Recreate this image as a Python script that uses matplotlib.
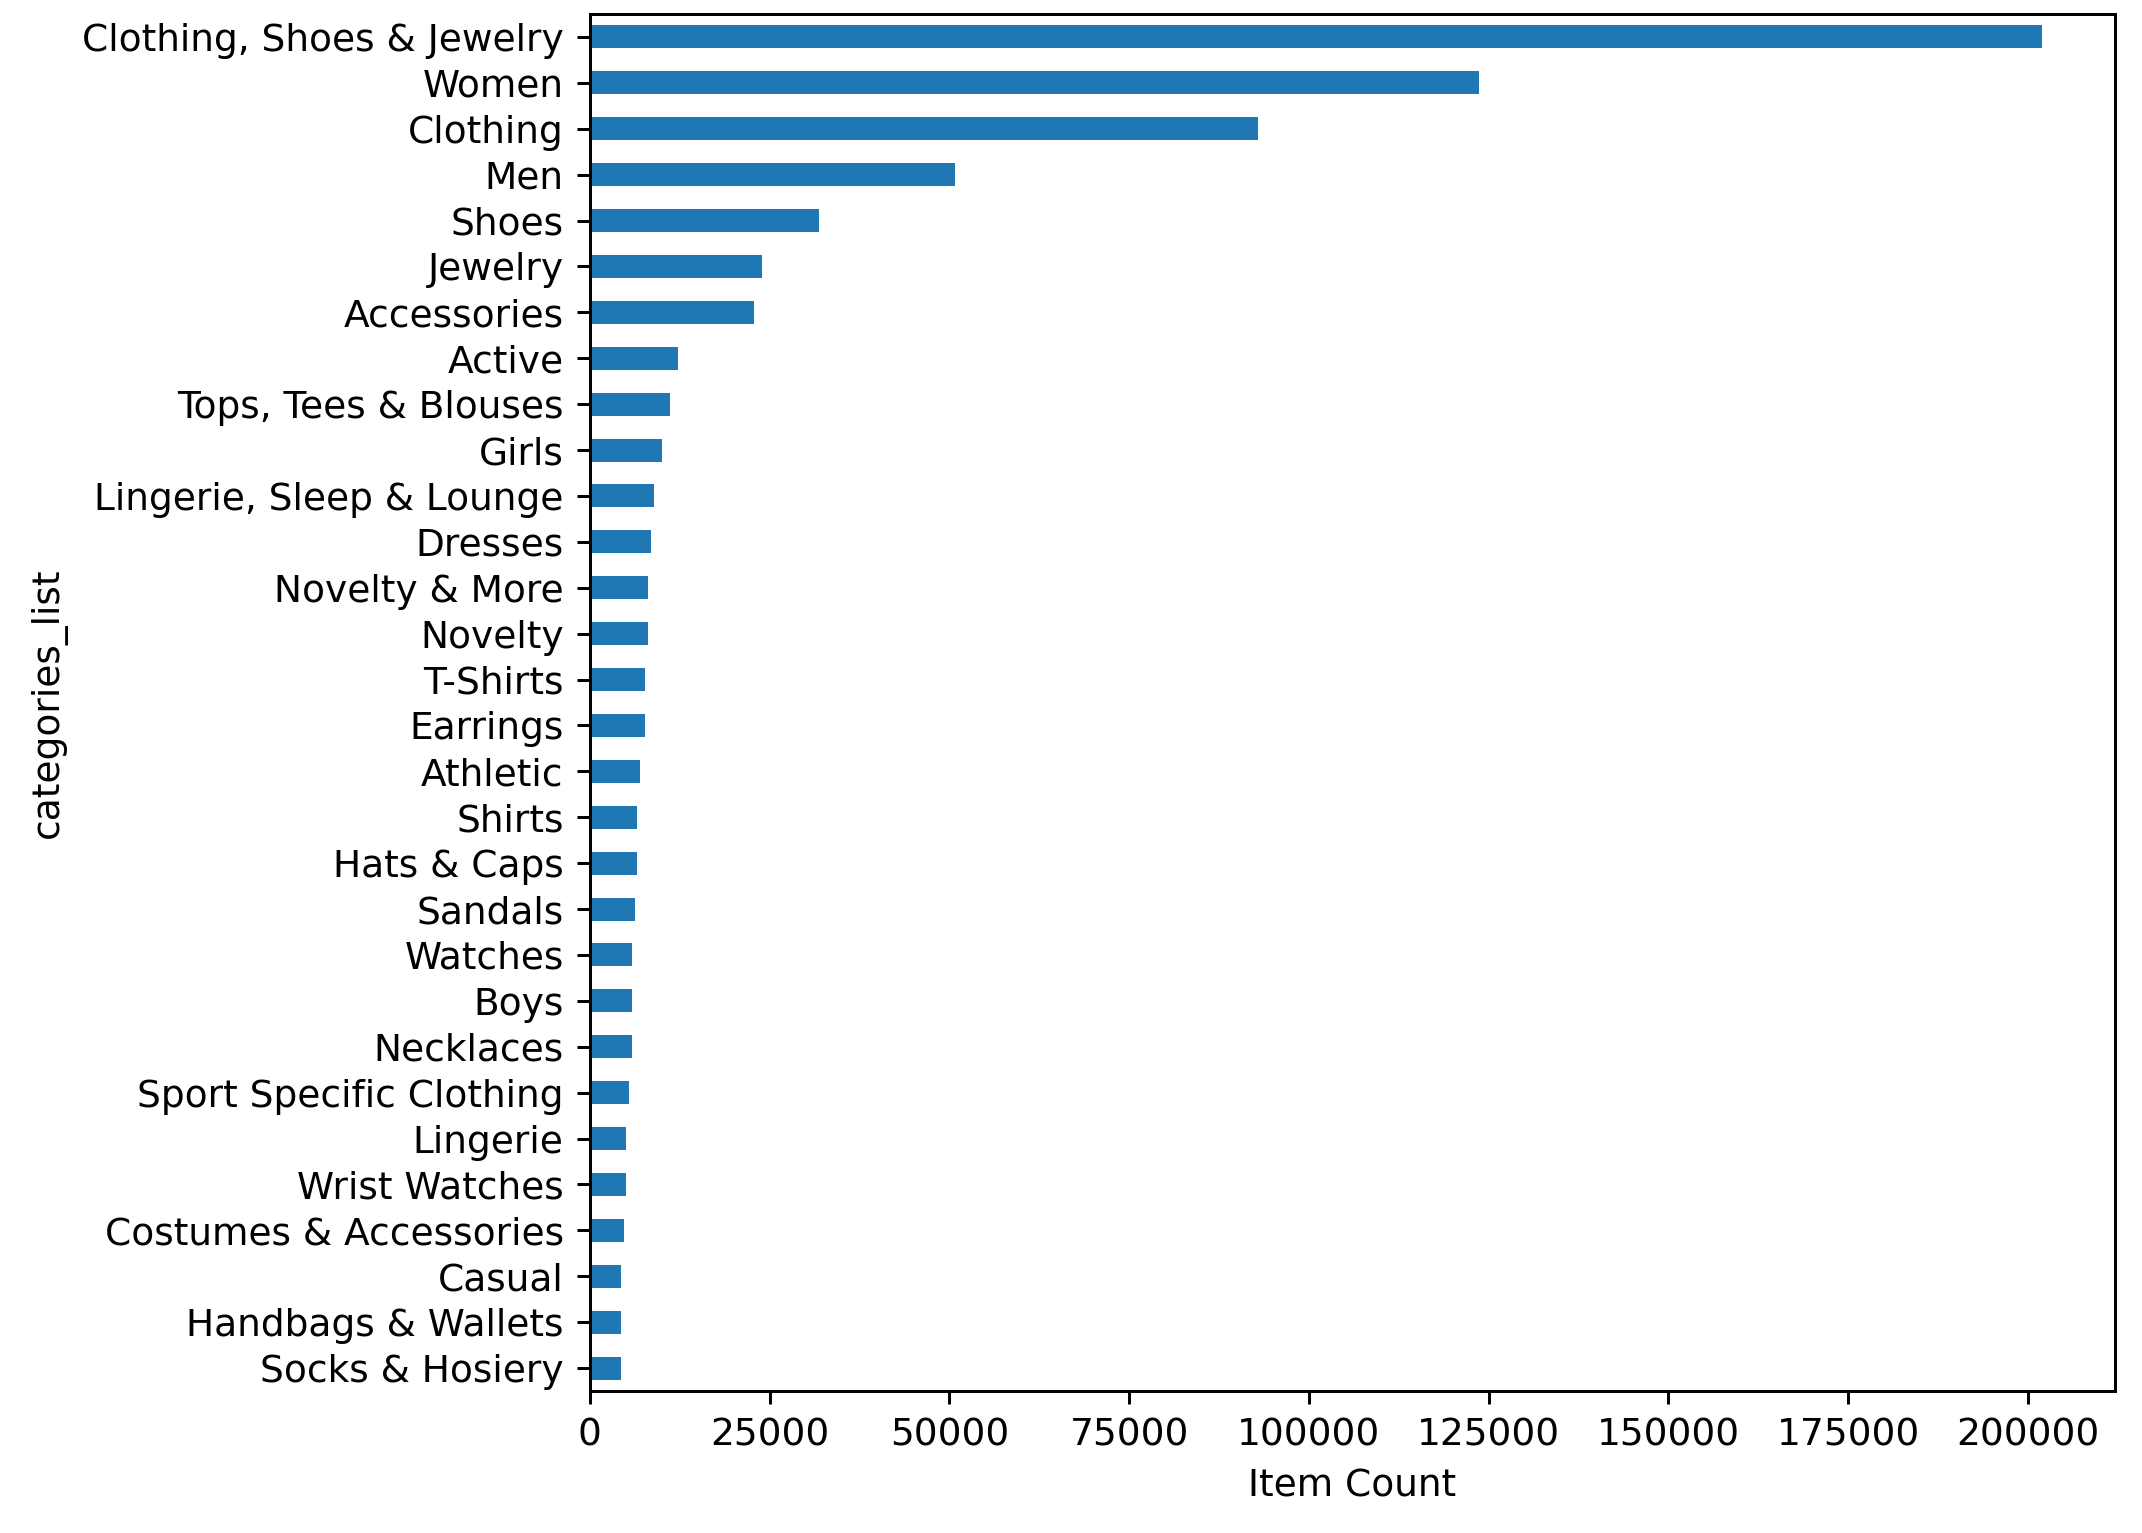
import matplotlib
matplotlib.use("Agg")
import matplotlib.pyplot as plt

# top 30 categories, largest first
categories = [
    "Clothing, Shoes & Jewelry", "Women", "Clothing", "Men", "Shoes",
    "Jewelry", "Accessories", "Active", "Tops, Tees & Blouses", "Girls",
    "Lingerie, Sleep & Lounge", "Dresses", "Novelty & More", "Novelty",
    "T-Shirts", "Earrings", "Athletic", "Shirts", "Hats & Caps", "Sandals",
    "Watches", "Boys", "Necklaces", "Sport Specific Clothing", "Lingerie",
    "Wrist Watches", "Costumes & Accessories", "Casual", "Handbags & Wallets",
    "Socks & Hosiery",
]
item_counts = [
    202000, 123700, 92900, 50800, 31900,
    23900, 22800, 12250, 11150, 10000,
    8900, 8500, 8100, 8050,
    7650, 7600, 6950, 6550, 6500, 6250,
    5850, 5850, 5800, 5450, 5050,
    5000, 4750, 4350, 4330,
    4300,
]

DPI = 270
fig = plt.figure(figsize=(2142 / DPI, 1533 / DPI), dpi=DPI)
ax = fig.add_axes([0.2754, 0.0926, 0.9874 - 0.2754, 0.9909 - 0.0926])

pos = list(range(len(categories)))
ax.barh(pos, item_counts, height=0.5, color="#1f77b4")
ax.set_yticks(pos)
ax.set_yticklabels(categories)
ax.set_ylim(len(categories) - 0.5, -0.5)

ax.set_xlabel("Item Count")
ax.set_ylabel("categories_list")
# title sits mostly above the top edge, as in the original screenshot
ax.set_title("Top 30 Most Common Categories", pad=6)

fig.savefig("out.png", dpi=DPI)
